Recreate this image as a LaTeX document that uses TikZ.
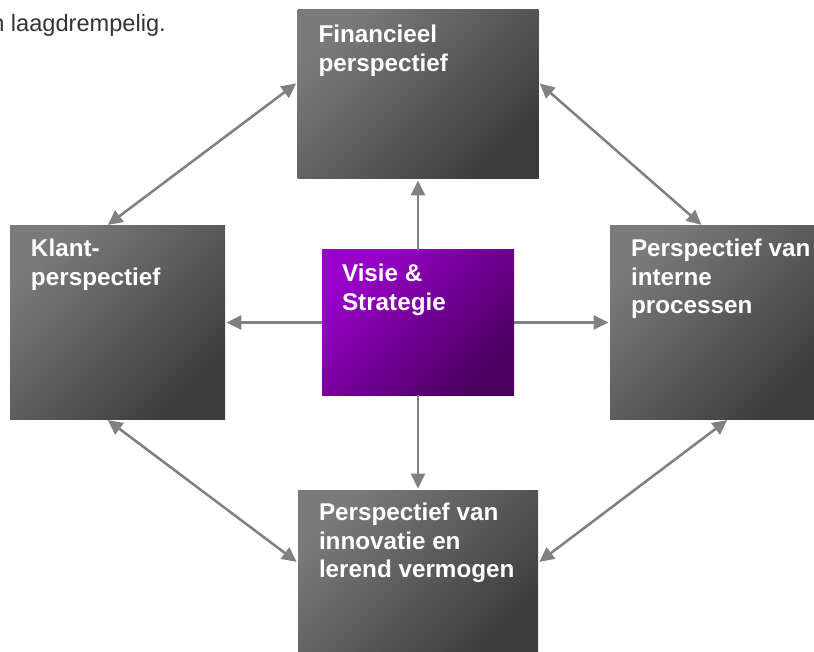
\documentclass[tikz,border=0pt]{standalone}
\usepackage{fontspec}
\setmainfont{Liberation Sans}
\usetikzlibrary{calc,arrows.meta}
\definecolor{boxlight}{HTML}{7A7A7A}
\definecolor{boxdark}{HTML}{3C3C3C}
\definecolor{vislight}{HTML}{9A00CC}
\definecolor{visdark}{HTML}{4A005E}
\definecolor{conncol}{HTML}{808080}
\definecolor{txtcol}{HTML}{333333}
\tikzset{
  pbox/.style={draw=none, inner sep=0pt, shading=axis, top color=boxlight, bottom color=boxdark, shading angle=45},
  visbox/.style={draw=none, inner sep=0pt, shading=axis, top color=vislight, bottom color=visdark, shading angle=45},
  lbl/.style={anchor=base west, inner sep=0pt, align=left, text=white, font=\bfseries\fontsize{18.2}{21.4}\selectfont},
  conn/.style={draw=conncol, line width=1.9pt, -{Triangle[length=11pt,width=10.5pt]}, shorten >=1pt},
  dconn/.style={draw=conncol, line width=1.9pt, {Triangle[length=11pt,width=10.5pt]}-{Triangle[length=11pt,width=10.5pt]}, shorten >=1pt, shorten <=1pt}
}
\begin{document}
\begin{tikzpicture}[x=0.75pt,y=-0.75pt]
\useasboundingbox (0,0) rectangle (814,652);
\node[anchor=base west, inner sep=0pt, text=txtcol, font=\fontsize{17.7}{21}\selectfont] (intro) at (-9,32) {n laagdrempelig.};
% boxes
\node[pbox, minimum width=241*0.75pt, minimum height=169*0.75pt] (fin) at (418,94.5) {};
\node[visbox, minimum width=192*0.75pt, minimum height=145*0.75pt] (vis) at (418,322.5) {};
\node[pbox, minimum width=215*0.75pt, minimum height=193*0.75pt] (kla) at (117.5,322.5) {};
\node[pbox, minimum width=215*0.75pt, minimum height=193*0.75pt] (int) at (717.5,322.5) {};
\node[pbox, minimum width=240*0.75pt, minimum height=169*0.75pt] (inn) at (418,574.5) {};
% labels (base anchor = last line baseline; line pitch 28.5 px)
\node[lbl] (fint) at ($(fin.north west)+(21,33+28.5)$) {Financieel\\perspectief};
\node[lbl] (vist) at ($(vis.north west)+(20,32+28.5)$) {Visie \&\\Strategie};
\node[lbl] (klat) at ($(kla.north west)+(21,31+28.5)$) {Klant-\\perspectief};
\node[lbl] (intt) at ($(int.north west)+(21,31+57)$) {Perspectief van\\interne\\processen};
\node[lbl] (innt) at ($(inn.north west)+(21,31+57)$) {Perspectief van\\innovatie en\\lerend vermogen};
% connectors from centre
\draw[conn] (vis.north) -- (fin.south);
\draw[conn] (vis.south) -- (inn.north);
\draw[conn] (vis.west) -- (kla.east);
\draw[conn] (vis.east) -- (int.west);
% diagonal connectors
\coordinate (klaN) at ($(kla.north west)!0.45!(kla.north east)$);
\coordinate (klaS) at ($(kla.south west)!0.45!(kla.south east)$);
\coordinate (intN) at ($(int.north west)!0.43!(int.north east)$);
\coordinate (intS) at ($(int.south west)!0.55!(int.south east)$);
\coordinate (finW) at ($(fin.north west)!0.43!(fin.south west)$);
\coordinate (finE) at ($(fin.north east)!0.43!(fin.south east)$);
\coordinate (innW) at ($(inn.north west)!0.43!(inn.south west)$);
\coordinate (innE) at ($(inn.north east)!0.43!(inn.south east)$);
\draw[dconn] (klaN) -- (finW);
\draw[dconn] (finE) -- (intN);
\draw[dconn] (intS) -- (innE);
\draw[dconn] (klaS) -- (innW);
\end{tikzpicture}
\end{document}
